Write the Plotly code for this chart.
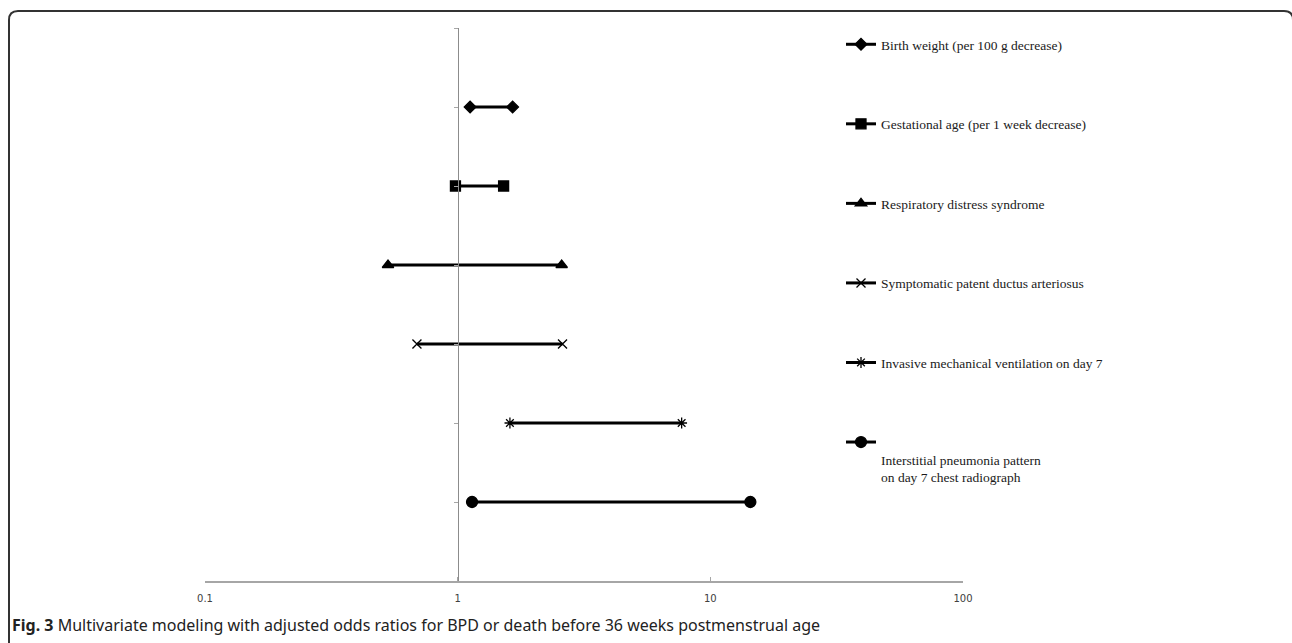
import plotly.graph_objects as go

W, H = 1292, 643

# ---- data ----
labels = [
    "Birth weight (per 100 g decrease)",
    "Gestational age (per 1 week decrease)",
    "Respiratory distress syndrome",
    "Symptomatic patent ductus arteriosus",
    "Invasive mechanical ventilation on day 7",
    "Interstitial pneumonia pattern<br>on day 7 chest radiograph",
]
ci_lower = [1.12, 0.98, 0.53, 0.69, 1.61, 1.14]
ci_upper = [1.65, 1.52, 2.58, 2.60, 7.70, 14.4]
x_ticks = [0.1, 1, 10, 100]
x_tick_text = ["0.1", "1", "10", "100"]

symbols = ["diamond", "square", "triangle-up", "x-thin-open", "asterisk-open", "circle"]
sizes = [9, 10, 10, 9, 9, 11]


def X(px):
    return px / W


def Y(py):
    return 1 - py / H


fig = go.Figure()
for i, lab in enumerate(labels):
    name = lab if i < len(labels) - 1 else "<br>" + lab
    fig.add_trace(go.Scatter(
        x=[ci_lower[i], ci_upper[i]],
        y=[i + 1, i + 1],
        mode="lines+markers",
        name=name,
        legendgroup=f"g{i}",
        line=dict(color="black", width=3),
        marker=dict(symbol=symbols[i], size=sizes[i], color="black",
                    line=dict(color="black", width=1.3)),
    ))

x0_px, x1_px = 205, 963
pos_one = X(x0_px + (x1_px - x0_px) / 3)

fig.update_layout(
    template="none",
    width=W, height=H, autosize=False,
    margin=dict(l=0, r=0, t=0, b=0, pad=0),
    paper_bgcolor="white", plot_bgcolor="white",
    xaxis=dict(
        type="log", range=[-1, 2], domain=[X(x0_px), X(x1_px)],
        tickvals=x_ticks, ticktext=x_tick_text,
        showgrid=False, zeroline=False, automargin=False,
        showline=True, linecolor="#a6a6a6", linewidth=1.5,
        ticks="inside", ticklen=4, tickcolor="#a6a6a6",
        tickfont=dict(family="DejaVu Sans", size=10, color="#404040"),
        ticklabelstandoff=7,
        anchor="y",
    ),
    yaxis=dict(
        range=[7, 0], domain=[Y(581), Y(28)],
        dtick=1, tick0=0, automargin=False,
        showticklabels=False, showgrid=False, zeroline=False,
        showline=True, linecolor="#8c8c8c", linewidth=1,
        ticks="outside", ticklen=4, tickcolor="#a6a6a6",
        anchor="free", position=pos_one,
    ),
    showlegend=True,
    legend=dict(
        x=X(841), y=Y(29), xanchor="left", yanchor="top",
        font=dict(family="Liberation Serif", size=13.5, color="#1a1a1a"),
        tracegroupgap=59, valign="top",
        bgcolor="rgba(0,0,0,0)", itemwidth=30,
    ),
    shapes=[dict(
        type="path", xref="paper", yref="paper",
        path=(f"M {X(9)},{Y(660)} L {X(9)},{Y(20)} Q {X(9)},{Y(11)} {X(18)},{Y(11)} "
              f"L {X(1284)},{Y(11)} Q {X(1293)},{Y(11)} {X(1293)},{Y(20)} L {X(1293)},{Y(660)}"),
        line=dict(color="#333333", width=2),
    )],
    annotations=[dict(
        xref="paper", yref="paper", x=X(10), y=Y(625),
        xanchor="left", yanchor="middle", showarrow=False,
        text="<b>Fig. 3</b> Multivariate modeling with adjusted odds ratios for BPD or death before 36 weeks postmenstrual age",
        font=dict(family="Noto Sans", size=16, color="#222222"),
    )],
)

fig.write_html(
    "out.html",
    config={"responsive": False, "displayModeBar": False},
    post_script=("document.body.style.margin='0';"
                 "document.body.style.overflow='hidden';"
                 "document.documentElement.style.overflow='hidden';"),
)
